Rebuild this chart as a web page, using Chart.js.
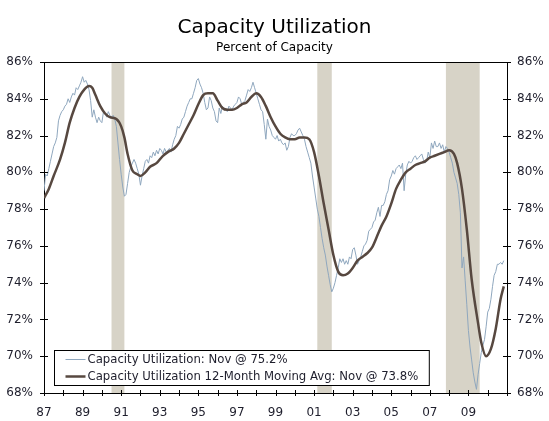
<!DOCTYPE html>
<html>
<head>
<meta charset="utf-8">
<title>Capacity Utilization</title>
<script src="https://cdn.jsdelivr.net/npm/chart.js@4.4.0/dist/chart.umd.min.js"></script>
<style>
  html, body { margin: 0; padding: 0; background: #fff; }
  #wrap { width: 549px; height: 421px; }
</style>
</head>
<body>
<div id="wrap"><canvas id="capChart" width="549" height="421"></canvas></div>
<script>
// Monthly capacity utilization, Jan 1987 .. Nov 2010 (percent)
const startYear = 1987;
const utilization = [
  79.0, 79.9, 79.8, 80.2, 80.6, 81.0, 81.4, 81.6, 81.9, 82.8, 83.1, 83.3, // 1987
  83.4, 83.6, 83.7, 84.0, 83.8, 84.1, 84.3, 84.2, 84.6, 84.5, 84.7, 84.9, // 1988
  85.2, 84.9, 85.0, 84.8, 84.5, 83.9, 83.0, 83.4, 83.0, 82.7, 83.0, 82.8, // 1989
  82.7, 83.3, 83.2, 83.0, 83.3, 83.1, 83.0, 83.1, 82.9, 82.5, 81.6, 80.7, // 1990
  79.9, 79.2, 78.7, 78.8, 79.4, 80.0, 80.3, 80.5, 80.7, 80.5, 80.2, 79.9, // 1991
  79.3, 79.8, 80.2, 80.6, 80.7, 80.5, 80.9, 80.8, 81.1, 80.9, 81.2, 81.0, // 1992
  81.3, 81.2, 81.0, 81.3, 81.1, 81.2, 81.3, 81.1, 81.5, 81.8, 82.0, 82.5, // 1993
  82.4, 82.6, 82.9, 83.0, 83.3, 83.6, 83.8, 84.0, 84.0, 84.3, 84.6, 85.0, // 1994
  85.1, 84.8, 84.6, 84.3, 83.8, 83.4, 83.5, 84.1, 83.9, 83.5, 83.3, 82.8, // 1995
  82.7, 83.5, 83.2, 83.6, 83.4, 83.5, 83.3, 83.6, 83.5, 83.4, 83.6, 83.7, // 1996
  83.8, 84.1, 84.0, 83.7, 83.8, 83.9, 84.2, 84.5, 84.4, 84.6, 84.9, 84.6, // 1997
  84.3, 84.0, 83.7, 83.4, 83.3, 82.6, 81.8, 82.9, 82.5, 82.3, 82.0, 81.9, // 1998
  81.8, 82.0, 81.7, 81.8, 81.6, 81.5, 81.6, 81.2, 81.4, 81.9, 82.1, 82.0, // 1999
  82.0, 82.1, 82.3, 82.4, 82.2, 82.0, 81.8, 81.4, 81.1, 80.8, 80.5, 79.8, // 2000
  79.2, 78.6, 78.0, 77.6, 77.0, 76.4, 75.9, 75.5, 74.9, 74.4, 73.9, 73.5, // 2001
  73.7, 74.0, 74.4, 74.8, 75.3, 75.1, 75.3, 75.0, 75.2, 75.0, 75.4, 75.3, // 2002
  75.8, 75.9, 75.5, 75.0, 75.2, 75.4, 75.7, 76.0, 76.1, 76.3, 76.8, 76.9, // 2003
  77.0, 77.3, 77.4, 77.8, 78.1, 77.6, 78.2, 78.2, 78.4, 78.8, 79.0, 79.6, // 2004
  79.8, 80.1, 79.9, 80.2, 80.3, 80.4, 80.2, 80.5, 79.0, 79.9, 80.4, 80.6, // 2005
  80.5, 80.6, 80.8, 80.9, 80.7, 80.8, 80.9, 81.0, 80.7, 80.5, 80.6, 81.1, // 2006
  80.8, 81.6, 81.3, 81.7, 81.4, 81.4, 81.6, 81.3, 81.5, 81.1, 81.4, 81.3, // 2007
  81.1, 80.8, 80.5, 80.0, 79.7, 79.4, 78.8, 77.8, 74.8, 75.4, 74.1, 72.8, // 2008
  71.4, 70.5, 69.8, 69.1, 68.6, 68.2, 69.0, 69.6, 70.2, 70.6, 70.9, 71.6, // 2009
  72.4, 72.6, 73.1, 73.8, 74.4, 74.6, 75.0, 75.0, 75.1, 75.0, 75.2        // 2010
];

// 12-month moving average
const avgMonths = [
  '1987-01', '1987-04', '1987-07', '1987-11', '1988-02', '1988-05', '1988-08', '1988-11',
  '1989-02', '1989-05', '1989-07', '1989-09', '1989-12', '1990-03', '1990-06', '1990-10',
  '1991-01', '1991-03', '1991-05', '1991-08', '1991-11', '1992-01', '1992-04', '1992-07',
  '1992-11', '1993-03', '1993-06', '1993-10', '1994-01', '1994-04', '1994-07', '1994-10',
  '1995-01', '1995-04', '1995-07', '1995-10', '1996-01', '1996-04', '1996-07', '1996-10',
  '1997-01', '1997-04', '1997-07', '1997-10', '1998-01', '1998-04', '1998-07', '1998-10',
  '1999-01', '1999-04', '1999-07', '1999-10', '2000-01', '2000-04', '2000-07', '2000-10',
  '2001-01', '2001-04', '2001-07', '2001-10', '2002-01', '2002-04', '2002-07', '2002-10',
  '2003-01', '2003-04', '2003-07', '2003-10', '2004-01', '2004-05', '2004-07', '2004-10',
  '2005-01', '2005-04', '2005-07', '2005-10', '2006-01', '2006-04', '2006-07', '2006-10',
  '2007-01', '2007-04', '2007-07', '2007-10', '2008-01', '2008-04', '2008-06', '2008-09',
  '2008-12', '2009-03', '2009-07', '2009-09', '2009-12', '2010-03', '2010-06', '2010-09',
  '2010-11'
];
const avgValues = [
  78.6, 79.1, 79.8, 80.7, 81.6, 82.7, 83.5, 84.1,
  84.5, 84.7, 84.6, 84.2, 83.6, 83.2, 83.0, 82.9,
  82.5, 81.9, 81.0, 80.1, 79.9, 79.8, 80.0, 80.3,
  80.5, 80.9, 81.1, 81.3, 81.6, 82.1, 82.6, 83.1,
  83.7, 84.2, 84.3, 84.3, 83.9, 83.5, 83.4, 83.4,
  83.5, 83.7, 83.8, 84.1, 84.3, 84.1, 83.6, 83.0,
  82.5, 82.1, 81.9, 81.8, 81.8, 81.9, 81.9, 81.8,
  81.1, 79.8, 78.3, 76.9, 75.5, 74.6, 74.4, 74.5,
  74.8, 75.2, 75.4, 75.6, 75.9, 76.7, 77.1, 77.6,
  78.3, 79.1, 79.6, 80.0, 80.2, 80.4, 80.5, 80.6,
  80.8, 80.9, 81.0, 81.1, 81.2, 81.0, 80.5, 79.1,
  76.9, 74.2, 71.8, 70.75, 70.0, 70.4, 71.5, 73.1,
  73.8
];

// Recession shading (start month, first month after)
const recessionStarts = ['1990-07', '2001-03', '2007-11'];
const recessionEnds = ['1991-03', '2001-12', '2009-08'];

const xTickYears = [1987, 1989, 1991, 1993, 1995, 1997, 1999, 2001, 2003, 2005, 2007, 2009];
const xTickLabels = ['87', '89', '91', '93', '95', '97', '99', '01', '03', '05', '07', '09'];
const yTicks = [68, 70, 72, 74, 76, 78, 80, 82, 84, 86];

const FONT = 'Verdana, "DejaVu Sans", sans-serif';
const TEXT = '#1e1e2c';

function monthToYear(m) {
  const parts = m.split('-');
  return parseInt(parts[0], 10) + (parseInt(parts[1], 10) - 1) / 12;
}

// shaded recession bars, under everything
const recessionPlugin = {
  id: 'recessions',
  beforeDraw(chart) {
    const ctx = chart.ctx;
    const area = chart.chartArea;
    const xs = chart.scales.x;
    ctx.save();
    ctx.fillStyle = '#d7d3c7';
    for (let i = 0; i < recessionStarts.length; i++) {
      const x0 = xs.getPixelForValue(monthToYear(recessionStarts[i]));
      const x1 = xs.getPixelForValue(monthToYear(recessionEnds[i]));
      ctx.fillRect(x0, area.top, x1 - x0, area.bottom - area.top);
    }
    ctx.restore();
  }
};

// top frame line and tick marks that cross the axes
const framePlugin = {
  id: 'frame',
  afterDatasetsDraw(chart) {
    const ctx = chart.ctx;
    const a = chart.chartArea;
    ctx.save();
    ctx.strokeStyle = '#000';
    ctx.lineWidth = 1;
    ctx.beginPath();
    const top = Math.round(a.top) + 0.5;
    ctx.moveTo(a.left, top);
    ctx.lineTo(a.right, top);
    chart.scales.y.ticks.forEach(t => {
      const y = Math.round(chart.scales.y.getPixelForValue(t.value)) + 0.5;
      ctx.moveTo(a.left - 4, y); ctx.lineTo(a.left + 4, y);
      ctx.moveTo(a.right - 4, y); ctx.lineTo(a.right + 4, y);
    });
    chart.scales.x.ticks.forEach(t => {
      const x = Math.round(chart.scales.x.getPixelForValue(t.value)) + 0.5;
      ctx.moveTo(x, a.bottom - 3); ctx.lineTo(x, a.bottom + 3);
    });
    ctx.stroke();
    ctx.restore();
  }
};

// boxed legend in the lower left of the plot
const boxLegendPlugin = {
  id: 'boxLegend',
  afterDraw(chart) {
    const ctx = chart.ctx;
    const a = chart.chartArea;
    const sets = chart.data.datasets;
    ctx.save();
    ctx.font = '11.7px ' + FONT;
    let textW = 0;
    sets.forEach(ds => { textW = Math.max(textW, ctx.measureText(ds.label).width); });
    const left = a.left + 10.5;
    const top = 350.5;
    const w = 33 + textW + 11;
    const h = 35;
    ctx.fillStyle = '#fff';
    ctx.fillRect(left, top, w, h);
    ctx.strokeStyle = '#000';
    ctx.lineWidth = 1;
    ctx.strokeRect(left, top, w, h);
    sets.forEach((ds, i) => {
      const y = top + 9 + i * 17;
      ctx.strokeStyle = ds.borderColor;
      ctx.lineWidth = ds.borderWidth;
      ctx.beginPath();
      ctx.moveTo(left + 11, y);
      ctx.lineTo(left + 31, y);
      ctx.stroke();
      ctx.fillStyle = TEXT;
      ctx.textBaseline = 'middle';
      ctx.textAlign = 'left';
      ctx.fillText(ds.label, left + 33, y);
    });
    ctx.restore();
  }
};

const rawPoints = utilization.map((v, i) => ({ x: startYear + i / 12, y: v }));
const avgPoints = avgMonths.map((m, i) => ({ x: monthToYear(m), y: avgValues[i] }));

const yAxis = (pos, width) => ({
  type: 'linear',
  position: pos,
  min: 68,
  max: 86,
  afterFit: s => { s.width = width; },
  afterBuildTicks: s => { s.ticks = yTicks.map(v => ({ value: v })); },
  grid: { display: true, drawOnChartArea: false, drawTicks: false },
  border: { display: true, color: '#000', width: 1 },
  ticks: {
    padding: pos === 'left' ? 11 : 10,
    color: TEXT,
    font: { family: FONT, size: 12 },
    callback: v => v + '%'
  }
});

new Chart(document.getElementById('capChart'), {
  type: 'scatter',
  data: {
    datasets: [{
      label: 'Capacity Utilization: Nov @ 75.2%',
      data: rawPoints,
      borderColor: '#8fa7be',
      borderWidth: 1,
      showLine: true,
      pointRadius: 0,
      tension: 0,
      order: 2
    }, {
      label: 'Capacity Utilization 12-Month Moving Avg: Nov @ 73.8%',
      data: avgPoints,
      borderColor: '#574840',
      borderWidth: 2.5,
      showLine: true,
      pointRadius: 0,
      cubicInterpolationMode: 'monotone',
      order: 1
    }]
  },
  options: {
    responsive: false,
    devicePixelRatio: 1,
    animation: false,
    layout: { padding: 0 },
    plugins: {
      legend: { display: false },
      tooltip: { enabled: false },
      title: {
        display: true,
        text: 'Capacity Utilization',
        color: '#000',
        font: { family: FONT, size: 20, weight: 'normal' },
        padding: { top: 16, bottom: 0 }
      },
      subtitle: {
        display: true,
        text: 'Percent of Capacity',
        color: '#000',
        font: { family: FONT, size: 12, weight: 'normal' },
        padding: { top: 1, bottom: 6.6 }
      }
    },
    scales: {
      x: {
        type: 'linear',
        min: 1987,
        max: 2011,
        afterFit: s => { s.height = 28; },
        grid: { display: true, drawOnChartArea: false, drawTicks: false },
        border: { display: true, color: '#000', width: 1 },
        ticks: {
          stepSize: 1,
          autoSkip: false,
          maxRotation: 0,
          padding: 13,
          color: TEXT,
          font: { family: FONT, size: 12 },
          callback: v => {
            const i = xTickYears.indexOf(v);
            return i >= 0 ? xTickLabels[i] : '';
          }
        }
      },
      y: yAxis('left', 44),
      y1: yAxis('right', 42)
    }
  },
  plugins: [recessionPlugin, framePlugin, boxLegendPlugin]
});
</script>
</body>
</html>
